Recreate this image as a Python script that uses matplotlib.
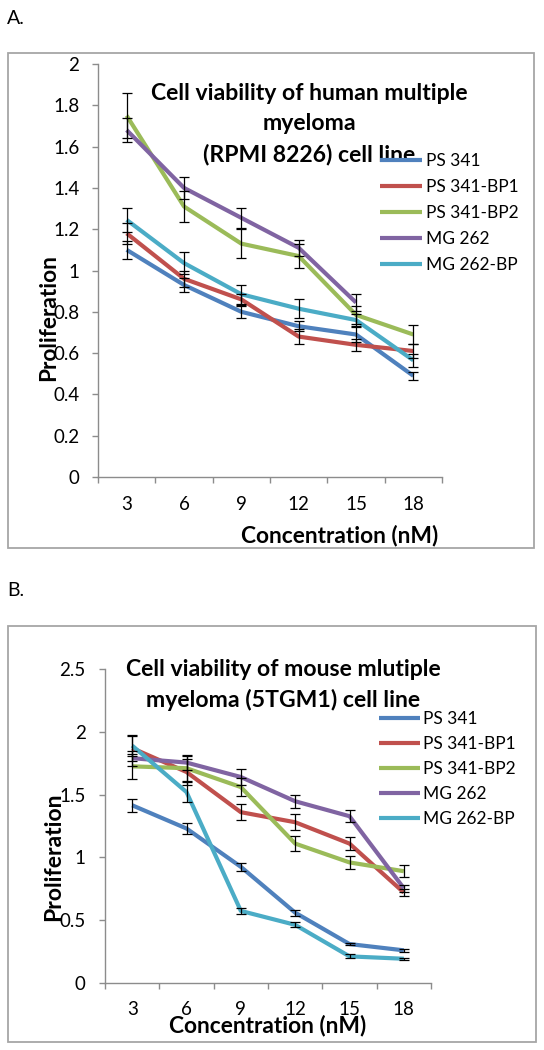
import numpy as np
import matplotlib
matplotlib.use("Agg")
import matplotlib.pyplot as plt
from matplotlib.patches import Rectangle

plt.rcParams['font.family'] = ['Lato', 'DejaVu Sans']

# ---------------- data ----------------
concentrations = ["3", "6", "9", "12", "15", "18"]
series_names = ["PS 341", "PS 341-BP1", "PS 341-BP2", "MG 262", "MG 262-BP"]
colors = ["#4F81BD", "#C0504D", "#9BBB59", "#8064A2", "#4BACC6"]

# Panel A: human RPMI 8226
a_ps341 = [1.10, 0.93, 0.80, 0.73, 0.69, 0.49]
a_ps341_bp1 = [1.18, 0.96, 0.86, 0.68, 0.64, 0.61]
a_ps341_bp2 = [1.75, 1.31, 1.13, 1.07, 0.785, 0.69]
a_mg262 = [1.68, 1.40, 1.255, 1.11, 0.845, np.nan]
a_mg262_bp = [1.245, 1.036, 0.885, 0.815, 0.76, 0.565]

a_ps341_err = [0.045, 0.035, 0.03, 0.025, 0.035, 0.02]
a_ps341_bp1_err = [0.05, 0.04, 0.025, 0.035, 0.03, 0.035]
a_ps341_bp2_err = [0.11, 0.075, 0.07, 0.06, 0.045, 0.045]
a_mg262_err = [0.06, 0.055, 0.05, 0.04, 0.04, np.nan]
a_mg262_bp_err = [0.06, 0.055, 0.045, 0.045, 0.03, 0.03]

# Panel B: mouse 5TGM1
b_ps341 = [1.415, 1.23, 0.925, 0.56, 0.31, 0.26]
b_ps341_bp1 = [1.87, 1.68, 1.36, 1.28, 1.11, 0.72]
b_ps341_bp2 = [1.725, 1.71, 1.56, 1.11, 0.96, 0.89]
b_mg262 = [1.79, 1.755, 1.64, 1.447, 1.328, 0.754]
b_mg262_bp = [1.89, 1.52, 0.574, 0.463, 0.212, 0.193]

b_ps341_err = [0.05, 0.045, 0.03, 0.025, 0.01, 0.01]
b_ps341_bp1_err = [0.1, 0.1, 0.065, 0.065, 0.05, 0.03]
b_ps341_bp2_err = [0.1, 0.1, 0.07, 0.06, 0.055, 0.05]
b_mg262_err = [0.06, 0.06, 0.06, 0.05, 0.05, 0.03]
b_mg262_bp_err = [0.085, 0.08, 0.025, 0.02, 0.015, 0.01]

# ---------------- figure ----------------
W, H = 544, 1050
fig = plt.figure(figsize=(W / 100, H / 100), dpi=100)
renderer = fig.canvas.get_renderer()


def fx(x):
    return x / W


def fy(y):
    return 1 - y / H


def fit_size(s, target_px, weight="normal", rotation=0, base=14.0):
    t = fig.text(0, 0, s, fontsize=base, fontweight=weight, rotation=rotation)
    bb = t.get_window_extent(renderer)
    L = bb.height if rotation else bb.width
    t.remove()
    return base * target_px / L


def place_text(s, cx, cy, target_px, weight="normal", rotation=0, size=None):
    if size is None:
        size = fit_size(s, target_px, weight, rotation)
    fig.text(fx(cx), fy(cy), s, fontsize=size, fontweight=weight, rotation=rotation,
             ha="center", va="center")
    return size


def make_legend(handles, fs, hx0, row_y, hl, htp, ls):
    return fig.legend(handles=handles, loc="upper left",
                      bbox_to_anchor=(fx(hx0), fy(row_y)), bbox_transform=fig.transFigure,
                      frameon=False, fontsize=fs, handlelength=hl, handletextpad=htp,
                      labelspacing=ls, borderpad=0, borderaxespad=0)


def place_legend(handles, fs, hx0, hx1, tx0, row0, pitch):
    fs_px = fs * 100 / 72
    hl = (hx1 - hx0) / fs_px
    htp = (tx0 - hx1) / fs_px
    ls = 0.4
    leg = make_legend(handles, fs, hx0, row0, hl, htp, ls)
    fig.canvas.draw()
    c = [t.get_window_extent(renderer) for t in leg.get_texts()]
    cur = ((c[0].y0 + c[0].y1) / 2 - (c[-1].y0 + c[-1].y1) / 2) / (len(c) - 1)
    ls += (pitch - cur) / fs_px
    leg.remove()
    leg = make_legend(handles, fs, hx0, row0, hl, htp, ls)
    fig.canvas.draw()
    b0 = leg.get_texts()[0].get_window_extent(renderer)
    cy = (b0.y0 + b0.y1) / 2
    leg.set_bbox_to_anchor((fx(hx0), fy(row0) + ((H - row0) - cy) / H),
                           transform=fig.transFigure)
    return leg


def panel(ax_box, values, errors, ylim, yticks, frame, letter, letter_xy,
          title_lines, title_cx, title_ys, title_w,
          leg_geom, ylab_xy, ylab_len, xlab_xy, xlab_w, xpad, ypad, tick_fs):
    x0, y0, x1, y1 = frame
    fig.patches.append(Rectangle((fx(x0), fy(y1)), fx(x1) - fx(x0), fy(y0) - fy(y1),
                                 transform=fig.transFigure, fill=False,
                                 edgecolor="#a6a6a6", linewidth=1.3))
    fig.text(fx(letter_xy[0]), fy(letter_xy[1]), letter, fontsize=14, ha="left", va="center")

    l, t, r, b = ax_box
    ax = fig.add_axes([fx(l), fy(b), fx(r) - fx(l), fy(t) - fy(b)])
    x = np.arange(len(concentrations))
    handles = []
    for vals, errs, c, name in zip(values, errors, colors, series_names):
        h, = ax.plot(x, vals, color=c, lw=3.0, label=name, zorder=2,
                     solid_capstyle="butt", solid_joinstyle="round")
        handles.append(h)
        ax.errorbar(x, vals, yerr=errs, fmt="none", ecolor="black", elinewidth=0.9,
                    capsize=3.5, capthick=0.9, zorder=3)
    ax.set_xlim(-0.5, len(concentrations) - 0.5)
    ax.set_ylim(*ylim)
    ax.set_yticks(yticks)
    ax.set_yticklabels([f"{v:g}" for v in yticks], fontsize=tick_fs)
    ax.set_xticks(np.arange(-0.5, len(concentrations)), minor=False)
    ax.set_xticklabels([])
    ax.set_xticks(x, minor=True)
    ax.set_xticklabels(concentrations, minor=True, fontsize=tick_fs)
    ax.tick_params(axis="x", which="minor", length=0, pad=xpad)
    ax.tick_params(axis="x", which="major", length=4.5, color="#8c8c8c", width=1)
    ax.tick_params(axis="y", length=4, color="#8c8c8c", width=1, pad=ypad)
    for s in ("top", "right"):
        ax.spines[s].set_visible(False)
    for s in ("left", "bottom"):
        ax.spines[s].set_color("#8c8c8c")
        ax.spines[s].set_linewidth(1)
    ax.patch.set_alpha(0)

    tsize = fit_size(title_lines[0], title_w, "bold")
    for line, ty in zip(title_lines, title_ys):
        place_text(line, title_cx, ty, None, "bold", size=tsize)
    place_text("Proliferation", ylab_xy[0], ylab_xy[1], ylab_len, "bold", rotation=90)
    place_text("Concentration (nM)", xlab_xy[0], xlab_xy[1], xlab_w, "bold")

    hx0, hx1, tx0, row0, pitch, refw = leg_geom
    lfs = fit_size("PS 341-BP1", refw)
    place_legend(handles, lfs, hx0, hx1, tx0, row0, pitch)
    return ax


panel((98, 64, 442, 477),
      [a_ps341, a_ps341_bp1, a_ps341_bp2, a_mg262, a_mg262_bp],
      [a_ps341_err, a_ps341_bp1_err, a_ps341_bp2_err, a_mg262_err, a_mg262_bp_err],
      (0, 2), np.arange(0, 2.01, 0.2), (8, 53, 534, 548), "A.", (7, 18),
      ["Cell viability of human multiple", "myeloma", "(RPMI 8226) cell line"],
      309, [93, 123, 154], 320,
      (380, 422, 426, 161, 26, 93), (49, 318), 128, (340, 536), 199, 13.5, 9.5, 13.5)

panel((105, 669, 431, 983),
      [b_ps341, b_ps341_bp1, b_ps341_bp2, b_mg262, b_mg262_bp],
      [b_ps341_err, b_ps341_bp1_err, b_ps341_bp2_err, b_mg262_err, b_mg262_bp_err],
      (0, 2.5), np.arange(0, 2.51, 0.5), (8, 626, 536, 1042), "B.", (7, 590),
      ["Cell viability of mouse mlutiple", "myeloma (5TGM1) cell line"],
      283, [670, 700], 317,
      (379, 420, 423, 719, 25, 93), (54, 857), 129, (268, 1025), 200, 13.0, 10, 13.5)

fig.savefig("out.png", dpi=100)
